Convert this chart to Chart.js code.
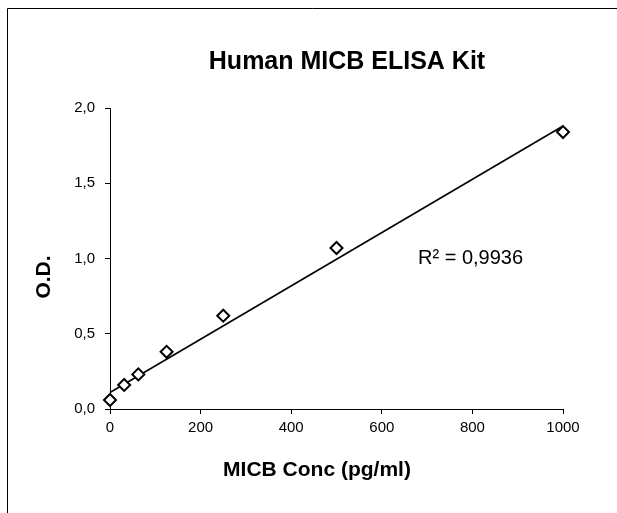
<!DOCTYPE html>
<html>
<head>
<meta charset="utf-8">
<script src="https://cdn.jsdelivr.net/npm/chart.js@4"></script>
<style>
  html, body { margin: 0; padding: 0; background: #fff; }
  canvas { display: block; }
</style>
</head>
<body>
<canvas id="chart" width="617" height="513"></canvas>
<script>
// standard curve points
const concentrations = [0, 31.25, 62.5, 125, 250, 500, 1000];
const odValues = [0.06, 0.16, 0.23, 0.38, 0.62, 1.07, 1.84];

// linear trendline ends, as drawn in the picture
const trendX = [0, 1000];
const trendY = [0.11, 1.88];

const xTicks = [0, 200, 400, 600, 800, 1000];
const yTicks = [0, 0.5, 1.0, 1.5, 2.0];

const chartTitle = 'Human MICB ELISA Kit';
const xTitle = 'MICB Conc (pg/ml)';
const yTitle = 'O.D.';
const rSquaredText = 'R\u00b2 = 0,9936';

const FONT = '"Liberation Sans", Arial, sans-serif';

// titles, r-squared label and the frame round the chart
const decorations = {
  id: 'decorations',
  afterDraw(chart) {
    const ctx = chart.ctx;
    ctx.save();
    ctx.strokeStyle = '#000';
    ctx.lineWidth = 1;
    ctx.beginPath();
    ctx.moveTo(7.5, 513);
    ctx.lineTo(7.5, 8.5);
    ctx.lineTo(617, 8.5);
    ctx.stroke();

    ctx.fillStyle = '#000';
    ctx.textAlign = 'center';
    ctx.textBaseline = 'middle';
    ctx.font = 'bold 25px ' + FONT;
    ctx.fillText(chartTitle, 347, 62);

    ctx.font = 'bold 21px ' + FONT;
    ctx.fillText(xTitle, 317, 470);

    ctx.save();
    ctx.translate(44, 277);
    ctx.rotate(-Math.PI / 2);
    ctx.fillText(yTitle, 0, 0);
    ctx.restore();

    ctx.font = '20px ' + FONT;
    ctx.textAlign = 'left';
    ctx.fillText(rSquaredText, 418, 258);
    ctx.restore();
  }
};

new Chart('chart', {
  type: 'scatter',
  data: {
    datasets: [
      {
        label: 'O.D.',
        data: concentrations.map((c, i) => ({ x: c, y: odValues[i] })),
        pointStyle: 'rectRot',
        pointRadius: 6,
        pointHoverRadius: 6,
        pointBackgroundColor: '#fff',
        pointBorderColor: '#000',
        pointBorderWidth: 2,
        showLine: false,
        clip: false,
        order: 0,
      },
      {
        label: 'Linear',
        data: trendX.map((x, i) => ({ x: x, y: trendY[i] })),
        showLine: true,
        borderColor: '#000',
        borderWidth: 1.6,
        pointRadius: 0,
        clip: false,
        order: 1,
      },
    ],
  },
  options: {
    responsive: false,
    animation: false,
    devicePixelRatio: 1,
    layout: {
      padding: { left: 0, right: 54, top: 108, bottom: 0 },
    },
    plugins: {
      legend: { display: false },
      title: { display: false },
      tooltip: { enabled: false },
    },
    scales: {
      x: {
        type: 'linear',
        min: 0,
        max: 1000,
        afterBuildTicks: (scale) => {
          scale.ticks = xTicks.map((v) => ({ value: v }));
        },
        afterFit: (scale) => {
          scale.height = 104;
        },
        grid: {
          drawOnChartArea: false,
          drawTicks: true,
          tickLength: 5,
          color: '#000',
        },
        border: { color: '#000', width: 1 },
        ticks: {
          color: '#000',
          padding: 5,
          font: { family: FONT, size: 15 },
          callback: (value) => String(value),
        },
      },
      y: {
        min: 0,
        max: 2,
        afterBuildTicks: (scale) => {
          scale.ticks = yTicks.map((v) => ({ value: v }));
        },
        afterFit: (scale) => {
          scale.width = 110;
        },
        grid: {
          drawOnChartArea: false,
          drawTicks: true,
          tickLength: 5,
          color: '#000',
        },
        border: { color: '#000', width: 1 },
        ticks: {
          color: '#000',
          padding: 10,
          font: { family: FONT, size: 15 },
          callback: (value) => value.toFixed(1).replace('.', ','),
        },
      },
    },
  },
  plugins: [decorations],
});
</script>
</body>
</html>
